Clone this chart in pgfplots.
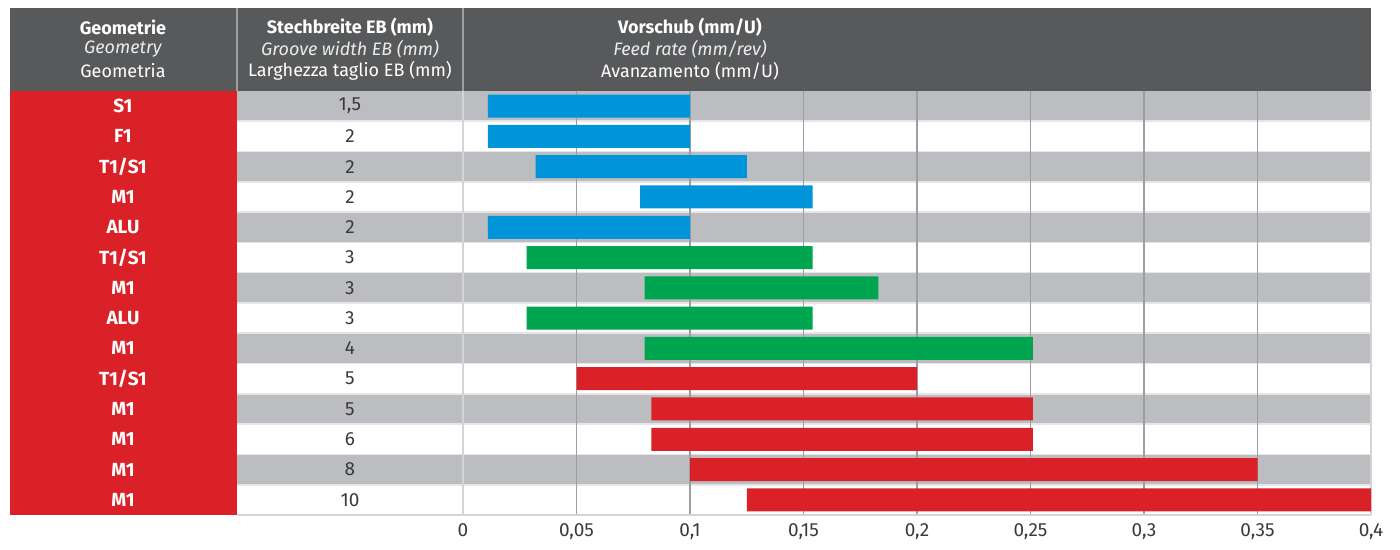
\documentclass[border=0pt]{standalone}
\usepackage{fontspec}
\setmainfont{Fira Sans}
\usepackage{pgfplots}
\usepackage{pgfplotstable}
\pgfplotsset{compat=1.18}
\definecolor{hdr}{HTML}{58595B}
\definecolor{rowgray}{HTML}{BCBDC0}
\definecolor{barblue}{HTML}{0095D9}
\definecolor{bargreen}{HTML}{00A54F}
\definecolor{barred}{HTML}{DA2128}
\definecolor{gridc}{HTML}{9D9EA0}
\definecolor{lightc}{HTML}{D4D4D6}
\definecolor{sepc}{HTML}{E6E6E8}
\definecolor{txt}{HTML}{3A3A3A}

% row start blue-length green-length red-length
\pgfplotstableread{
row start blue green red
0 0.011 0.089 0 0
1 0.011 0.089 0 0
2 0.032 0.093 0 0
3 0.078 0.076 0 0
4 0.011 0.089 0 0
5 0.028 0 0.126 0
6 0.080 0 0.103 0
7 0.028 0 0.126 0
8 0.080 0 0.171 0
9 0.050 0 0 0.150
10 0.083 0 0 0.168
11 0.083 0 0 0.168
12 0.100 0 0 0.250
13 0.125 0 0 0.275
}\bars

\newcommand{\fh}{\fontsize{9}{10.8}\selectfont}
\newcommand{\fs}{\fontsize{9.5}{11.4}\selectfont}

\pgfplotsset{base/.style={
  at={(5pt,17.5pt)}, anchor=south west,
  scale only axis, width=680.5pt, height=253.5pt,
  xmin=-0.19956, xmax=0.4, ymin=-3.239, ymax=13.5, y dir=reverse,
  axis line style={draw=none}, major tick length=0, ytick=\empty,
  xtick=\empty, clip=false,
}}

\begin{document}
\begin{tikzpicture}
\useasboundingbox (0,0) rectangle (700pt,275pt);
% layer 1: filled backgrounds
\begin{axis}[base,
  xtick={0,0.05,0.1,0.15,0.2,0.25,0.3,0.35,0.4},
  xticklabels={0,{0,05},{0,1},{0,15},{0,2},{0,25},{0,3},{0,35},{0,4}},
  xticklabel style={font=\fs, text=txt, yshift=-1pt}]
\fill[barred] (axis cs:-0.19956,-0.5) rectangle (axis cs:-0.0996,13.5);
\fill[rowgray] (axis cs:-0.0996,-0.5) rectangle (axis cs:0.4,0.5);
\fill[rowgray] (axis cs:-0.0996,1.5) rectangle (axis cs:0.4,2.5);
\fill[rowgray] (axis cs:-0.0996,3.5) rectangle (axis cs:0.4,4.5);
\fill[rowgray] (axis cs:-0.0996,5.5) rectangle (axis cs:0.4,6.5);
\fill[rowgray] (axis cs:-0.0996,7.5) rectangle (axis cs:0.4,8.5);
\fill[rowgray] (axis cs:-0.0996,9.5) rectangle (axis cs:0.4,10.5);
\fill[rowgray] (axis cs:-0.0996,11.5) rectangle (axis cs:0.4,12.5);
\fill[hdr] (axis cs:-0.19956,-3.239) rectangle (axis cs:0.4,-0.5);
\end{axis}
% layer 2: lines
\begin{axis}[base]
\pgfplotsinvokeforeach{0.5,1.5,2.5,3.5,4.5,5.5,6.5,7.5,8.5,9.5,10.5,11.5,12.5}{
  \draw[sepc, line width=0.8pt] (axis cs:-0.0996,#1) -- (axis cs:0.4,#1);
}
\draw[lightc, line width=0.8pt] (axis cs:0,-0.5) -- (axis cs:0,13.5);
\draw[lightc, line width=0.8pt] (axis cs:0.4,-0.5) -- (axis cs:0.4,13.5);
\pgfplotsinvokeforeach{0.05,0.1,0.15,0.2,0.25,0.3,0.35}{
  \draw[gridc, line width=0.8pt] (axis cs:#1,-0.5) -- (axis cs:#1,13.5);
}
\draw[lightc, line width=0.8pt] (axis cs:-0.0996,13.5) -- (axis cs:0.4,13.5);
\draw[gridc, line width=0.6pt] (axis cs:-0.0996,-3.239) -- (axis cs:-0.0996,-0.5);
\draw[gridc, line width=0.6pt] (axis cs:0,-3.239) -- (axis cs:0,-0.5);
\end{axis}
% layer 3: bars
\begin{axis}[base, xbar stacked, bar width=11.5pt]
\addplot[draw=none, fill=none] table[x=start, y=row] {\bars};
\addplot[draw=none, fill=barblue] table[x=blue, y=row] {\bars};
\addplot[draw=none, fill=bargreen] table[x=green, y=row] {\bars};
\addplot[draw=none, fill=barred] table[x=red, y=row] {\bars};
\end{axis}
% layer 4: texts
\begin{axis}[base]
\node[white, font=\fh\bfseries] at (axis cs:-0.1498,-2.61) {Geometrie};
\node[white!92!black, font=\fh\itshape] at (axis cs:-0.1498,-1.886) {Geometry};
\node[white, font=\fh] at (axis cs:-0.1498,-1.16) {Geometria};
\node[white, font=\fh\bfseries] at (axis cs:-0.0498,-2.61) {Stechbreite EB (mm)};
\node[white!92!black, font=\fh\itshape] at (axis cs:-0.0498,-1.886) {Groove width EB (mm)};
\node[white, font=\fh] at (axis cs:-0.0498,-1.16) {Larghezza taglio EB (mm)};
\node[white, font=\fh\bfseries] at (axis cs:0.1,-2.61) {Vorschub (mm/U)};
\node[white!92!black, font=\fh\itshape] at (axis cs:0.1,-1.886) {Feed rate (mm/rev)};
\node[white, font=\fh] at (axis cs:0.1,-1.16) {Avanzamento (mm/U)};
\node[white, font=\fs\bfseries] at (axis cs:-0.1498,0) {S1};
\node[white, font=\fs\bfseries] at (axis cs:-0.1498,1) {F1};
\node[white, font=\fs\bfseries] at (axis cs:-0.1498,2) {T1/S1};
\node[white, font=\fs\bfseries] at (axis cs:-0.1498,3) {M1};
\node[white, font=\fs\bfseries] at (axis cs:-0.1498,4) {ALU};
\node[white, font=\fs\bfseries] at (axis cs:-0.1498,5) {T1/S1};
\node[white, font=\fs\bfseries] at (axis cs:-0.1498,6) {M1};
\node[white, font=\fs\bfseries] at (axis cs:-0.1498,7) {ALU};
\node[white, font=\fs\bfseries] at (axis cs:-0.1498,8) {M1};
\node[white, font=\fs\bfseries] at (axis cs:-0.1498,9) {T1/S1};
\node[white, font=\fs\bfseries] at (axis cs:-0.1498,10) {M1};
\node[white, font=\fs\bfseries] at (axis cs:-0.1498,11) {M1};
\node[white, font=\fs\bfseries] at (axis cs:-0.1498,12) {M1};
\node[white, font=\fs\bfseries] at (axis cs:-0.1498,13) {M1};
\node[txt, font=\fs] at (axis cs:-0.0498,0) {1,5};
\node[txt, font=\fs] at (axis cs:-0.0498,1) {2};
\node[txt, font=\fs] at (axis cs:-0.0498,2) {2};
\node[txt, font=\fs] at (axis cs:-0.0498,3) {2};
\node[txt, font=\fs] at (axis cs:-0.0498,4) {2};
\node[txt, font=\fs] at (axis cs:-0.0498,5) {3};
\node[txt, font=\fs] at (axis cs:-0.0498,6) {3};
\node[txt, font=\fs] at (axis cs:-0.0498,7) {3};
\node[txt, font=\fs] at (axis cs:-0.0498,8) {4};
\node[txt, font=\fs] at (axis cs:-0.0498,9) {5};
\node[txt, font=\fs] at (axis cs:-0.0498,10) {5};
\node[txt, font=\fs] at (axis cs:-0.0498,11) {6};
\node[txt, font=\fs] at (axis cs:-0.0498,12) {8};
\node[txt, font=\fs] at (axis cs:-0.0498,13) {10};
\end{axis}
\end{tikzpicture}
\end{document}
